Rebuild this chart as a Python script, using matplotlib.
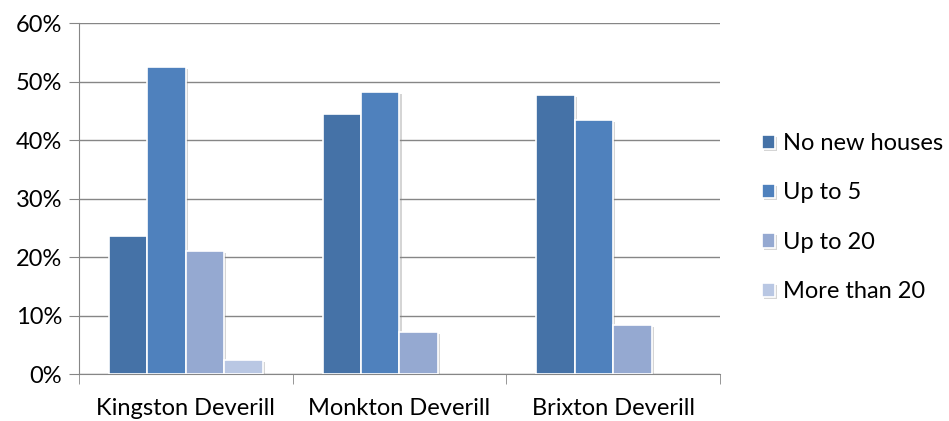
import numpy as np
import matplotlib.pyplot as plt
from matplotlib.ticker import PercentFormatter
import matplotlib.patheffects as pe


# 数据
villages = ['Kingston Deverill', 'Monkton Deverill', 'Brixton Deverill']
series_names = ['No new houses', 'Up to 5', 'Up to 20', 'More than 20']
no_new = [23.7, 44.5, 47.7]
up_to_5 = [52.5, 48.2, 43.4]
up_to_20 = [21.0, 7.3, 8.5]
more_than_20 = [2.4, 0.0, 0.0]
colors = ['#4572A7', '#4F81BD', '#95A9D1', '#B9C7E3']

plt.rcParams['font.family'] = ['Lato', 'DejaVu Sans']

fig = plt.figure(figsize=(9.49, 4.21), dpi=100)
ax = fig.add_axes([0.0832, 0.111, 0.6755, 0.834])

x = np.arange(len(villages))
w = 0.18
shadow = [pe.SimplePatchShadow(offset=(1.5, -1.5), shadow_rgbFace='#888888', alpha=0.35), pe.Normal()]
for i, vals in enumerate([no_new, up_to_5, up_to_20, more_than_20]):
    bars = ax.bar(x + (i - 1.5) * w, vals, w, color=colors[i], edgecolor='white',
                  linewidth=1.2, label=series_names[i], zorder=3)
    for b in bars:
        if b.get_height() > 0:
            b.set_path_effects(shadow)
        else:
            b.set_visible(False)

ax.set_xlim(-0.5, 2.5)
ax.set_ylim(0, 60)
ax.set_yticks(range(0, 61, 10))
ax.yaxis.set_major_formatter(PercentFormatter(decimals=0))
ax.grid(axis='y', color='#868686', linewidth=1, zorder=0)

ax.set_xticks(x)
ax.set_xticklabels(villages)
ax.set_xticks([-0.5, 0.5, 1.5, 2.5], minor=True)
ax.tick_params(axis='x', which='major', length=0, pad=17, labelsize=17)
ax.tick_params(axis='x', which='minor', length=7, color='#868686', direction='out')
ax.tick_params(axis='y', length=7, color='#868686', labelsize=17, pad=5)

for s in ['top', 'right']:
    ax.spines[s].set_visible(False)
for s in ['left', 'bottom']:
    ax.spines[s].set_color('#868686')

fig.legend(loc='center left', bbox_to_anchor=(0.803, 0.483), frameon=False,
           fontsize=17, labelspacing=1.2, handlelength=0.55, handleheight=0.55,
           handletextpad=0.35, borderaxespad=0, borderpad=0)

plt.savefig('out.png', dpi=100)
